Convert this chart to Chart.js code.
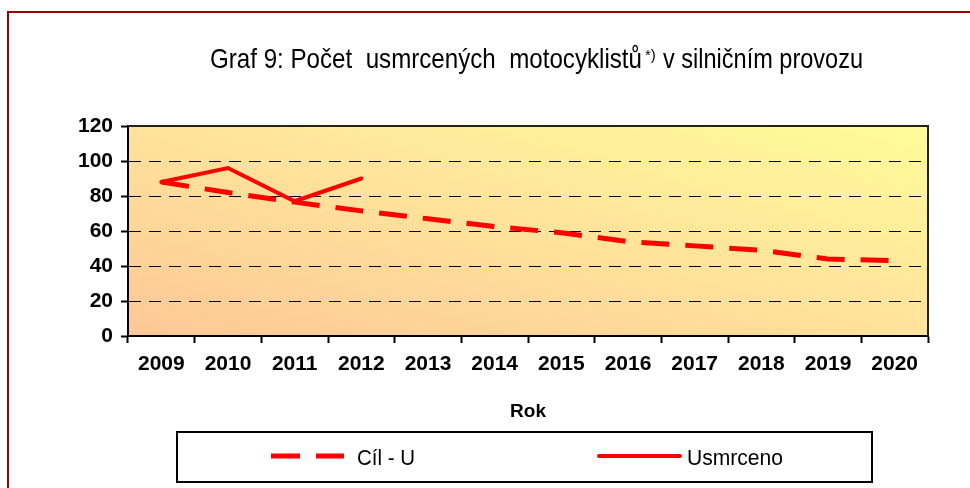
<!DOCTYPE html>
<html>
<head>
<meta charset="utf-8">
<script src="https://cdn.jsdelivr.net/npm/chart.js@4"></script>
<style>
html,body{margin:0;padding:0;background:#fff;}
#wrap{width:970px;height:488px;position:relative;}
</style>
</head>
<body>
<div id="wrap"><canvas id="c" width="970" height="488"></canvas></div>
<script>
// ---- data ----
const categories = ['2009','2010','2011','2012','2013','2014','2015','2016','2017','2018','2019','2020'];
const targetValues = [88, 82, 76.5, 71.5, 67, 62.5, 59, 54, 51.5, 49, 44, 43];
const killedValues = [88, 96, 77, 90, null, null, null, null, null, null, null, null];
const yTickValues = [0, 20, 40, 60, 80, 100, 120];
const seriesNames = ['Cíl - U', 'Usmrceno'];
const xAxisTitle = 'Rok';
const titleMain = 'Graf 9: Počet  usmrcených  motocyklistů';
const titleSup = '*)';
const titleEnd = 'v silničním provozu';

const FONT = '"Liberation Sans", Arial, sans-serif';

function fitText(ctx, text, x, y, width, font) {
  ctx.font = font;
  const w = ctx.measureText(text).width;
  ctx.save();
  ctx.translate(x, y);
  ctx.scale(width / w, 1);
  ctx.textAlign = 'left';
  ctx.fillText(text, 0, 0);
  ctx.restore();
}

const decor = {
  id: 'decor',
  beforeDraw(chart) {
    const ctx = chart.ctx;
    const a = chart.chartArea;
    const w = a.right - a.left, h = a.bottom - a.top;
    ctx.save();
    ctx.fillStyle = '#ffffff';
    ctx.fillRect(0, 0, chart.width, chart.height);
    // outer frame
    ctx.strokeStyle = '#990000';
    ctx.lineWidth = 2;
    ctx.strokeRect(8, 12, 2000, 2000);
    // plot background gradient: iso-lines parallel to the top-left/bottom-right diagonal
    const len = Math.sqrt(w * w + h * h);
    const proj = (2 * w * h) / len;
    const dx = h / len * proj, dy = -w / len * proj;
    const g = ctx.createLinearGradient(a.left, a.bottom, a.left + dx, a.bottom + dy);
    g.addColorStop(0, '#FCC896');
    g.addColorStop(0.5, '#FFE29B');
    g.addColorStop(1, '#FFFC99');
    ctx.fillStyle = g;
    ctx.fillRect(a.left, a.top, w, h);
    ctx.restore();
  },
  afterDraw(chart) {
    const ctx = chart.ctx;
    const a = chart.chartArea;
    ctx.save();
    // plot frame top/right
    ctx.strokeStyle = '#222';
    ctx.lineWidth = 2;
    ctx.beginPath();
    ctx.moveTo(a.left, a.top);
    ctx.lineTo(a.right, a.top);
    ctx.lineTo(a.right, a.bottom);
    ctx.stroke();

    // title
    ctx.fillStyle = '#000';
    ctx.textBaseline = 'alphabetic';
    fitText(ctx, titleMain, 210, 68, 432, '28px ' + FONT);
    ctx.font = '15px ' + FONT;
    ctx.fillText(titleSup, 645, 60);
    fitText(ctx, titleEnd, 663, 68, 200, '28px ' + FONT);

    // axis title
    ctx.font = 'bold 19px ' + FONT;
    ctx.textAlign = 'center';
    ctx.fillText(xAxisTitle, (a.left + a.right) / 2, 417);

    // legend box
    ctx.strokeStyle = '#000';
    ctx.lineWidth = 2;
    ctx.strokeRect(177, 432, 695, 50);
    ctx.strokeStyle = '#FF0000';
    ctx.lineWidth = 5;
    ctx.beginPath();
    ctx.moveTo(271, 456); ctx.lineTo(300, 456);
    ctx.moveTo(316, 456); ctx.lineTo(344, 456);
    ctx.stroke();
    ctx.lineWidth = 4;
    ctx.lineCap = 'round';
    ctx.beginPath();
    ctx.moveTo(599, 456); ctx.lineTo(680, 456);
    ctx.stroke();
    ctx.fillStyle = '#000';
    ctx.textAlign = 'left';
    fitText(ctx, seriesNames[0], 357, 465, 58, '22px ' + FONT);
    fitText(ctx, seriesNames[1], 687, 465, 96, '22px ' + FONT);
    ctx.restore();
  }
};

const tickFont = { family: FONT, size: 21, weight: 'bold' };

new Chart(document.getElementById('c').getContext('2d'), {
  type: 'line',
  data: {
    labels: categories,
    datasets: [
      {
        label: seriesNames[0],
        data: targetValues,
        borderColor: '#FF0000',
        borderWidth: 5,
        borderDash: [28, 16],
        borderCapStyle: 'butt',
        pointRadius: 0,
        fill: false,
        tension: 0
      },
      {
        label: seriesNames[1],
        data: killedValues,
        borderColor: '#FF0000',
        borderWidth: 4,
        borderCapStyle: 'round',
        borderJoinStyle: 'miter',
        pointRadius: 0,
        fill: false,
        tension: 0,
        spanGaps: false
      }
    ]
  },
  options: {
    responsive: false,
    animation: false,
    devicePixelRatio: 1,
    layout: { padding: { left: 0, top: 126, right: 42, bottom: 0 } },
    plugins: {
      legend: { display: false },
      title: { display: false },
      tooltip: { enabled: false }
    },
    scales: {
      x: {
        type: 'category',
        offset: true,
        grid: {
          offset: true,
          drawOnChartArea: false,
          drawTicks: true,
          tickLength: 7,
          tickColor: '#000',
          tickWidth: 2
        },
        border: { display: true, color: '#000', width: 2 },
        ticks: {
          color: '#000',
          font: tickFont,
          padding: 9,
          maxRotation: 0,
          autoSkip: false
        },
        afterFit(s) { s.height = 152; }
      },
      y: {
        min: 0,
        max: 120,
        afterBuildTicks(s) { s.ticks = yTickValues.map(v => ({ value: v })); },
        grid: {
          color: c => (c.tick && (c.tick.value === 0 || c.tick.value === 120)) ? 'rgba(0,0,0,0)' : '#000',
          lineWidth: 1,
          drawTicks: true,
          tickLength: 7,
          tickColor: '#000',
          tickWidth: 2,
          tickBorderDash: []
        },
        border: { display: true, color: '#000', width: 2, dash: [12, 8] },
        ticks: {
          color: '#000',
          font: tickFont,
          padding: 8
        },
        afterFit(s) { s.width = 128; }
      }
    }
  },
  plugins: [decor]
});
</script>
</body>
</html>
